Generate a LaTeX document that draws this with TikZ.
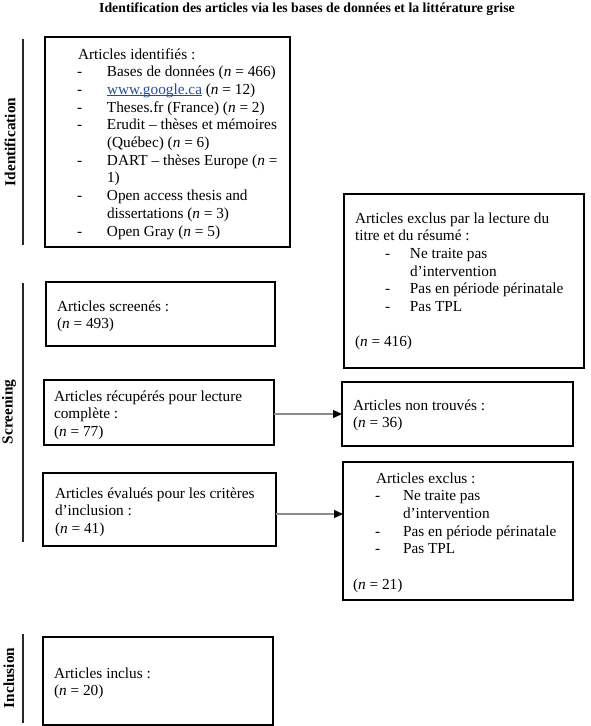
\documentclass[tikz,border=0pt]{standalone}
\usepackage{fontspec}
\setmainfont{Liberation Serif}
\usetikzlibrary{arrows.meta,calc}
\definecolor{linkblue}{RGB}{31,78,160}
\definecolor{arrgray}{RGB}{140,140,140}
\definecolor{secgray}{RGB}{40,40,50}
\newcommand{\nn}{\textit{n}}
\newcommand{\linkul}[1]{{\color{linkblue}\setbox0\hbox{#1}\rlap{\rule[-1.8pt]{\wd0}{0.8pt}}\box0}}
\tikzset{
  box/.style={draw=black, line width=1.8pt, rectangle, inner sep=0pt, outer sep=0pt, anchor=north west},
  txt/.style={inner sep=0pt, outer sep=0pt, anchor=base west, font=\fontsize{15.3}{17.7}\selectfont},
  lab/.style={inner sep=0pt, rotate=90, font=\fontsize{15.3}{17.7}\selectfont\bfseries},
  secline/.style={draw=secgray, line width=1.2pt},
  arr/.style={draw=arrgray, line width=1.3pt, -{Triangle[length=9pt,width=8pt,black]}, shorten >=0pt},
}
\begin{document}
\begin{tikzpicture}[x=1pt,y=-1pt]
\useasboundingbox (0,0) rectangle (590,726);

% title
\node[inner sep=0pt, anchor=base, font=\fontsize{13.8}{16}\selectfont\bfseries] (title) at (307,12)
  {Identification des articles via les bases de données et la littérature grise};

% section lines and labels
\coordinate (l1a) at (23,39);  \coordinate (l1b) at (23,245);
\coordinate (l2a) at (23,283); \coordinate (l2b) at (23,542);
\coordinate (l3a) at (23,634); \coordinate (l3b) at (23,723);
\draw[secline] (l1a) -- (l1b);
\draw[secline] (l2a) -- (l2b);
\draw[secline] (l3a) -- (l3b);
\node[lab] (lid) at (10,142) {Identification};
\node[lab] (lsc) at (9,412) {Screening};
\node[lab] (lin) at (9,678) {Inclusion};

% boxes
\node[box, minimum width=245pt, minimum height=210pt] (id) at (45,37) {};
\node[box, minimum width=240pt, minimum height=174pt] (ex1) at (344,194) {};
\node[box, minimum width=229pt, minimum height=64pt] (scr) at (46,282) {};
\node[box, minimum width=230pt, minimum height=65pt] (rec) at (44,380) {};
\node[box, minimum width=231pt, minimum height=64pt] (nt) at (342,382) {};
\node[box, minimum width=233pt, minimum height=73pt] (eva) at (43,473) {};
\node[box, minimum width=230pt, minimum height=138pt] (exc) at (343,462) {};
\node[box, minimum width=230pt, minimum height=88pt] (inc) at (43,637) {};

% texts
\node[txt] (idt) at (77,59) {\begin{tabular}[t]{@{}l@{}}
\hspace*{1pt}Articles identifiés :\\
\makebox[30pt][l]{-}Bases de données (\nn{} = 466)\\
\makebox[30pt][l]{-}\linkul{www.google.ca} (\nn{} = 12)\\
\makebox[30pt][l]{-}Theses.fr (France) (\nn{} = 2)\\
\makebox[30pt][l]{-}Erudit – thèses et mémoires\\
\hspace*{30pt}(Québec) (\nn{} = 6)\\
\makebox[30pt][l]{-}DART – thèses Europe (\nn{} =\\
\hspace*{30pt}1)\\
\makebox[30pt][l]{-}Open access thesis and\\
\hspace*{30pt}dissertations (\nn{} = 3)\\
\makebox[30pt][l]{-}Open Gray (\nn{} = 5)
\end{tabular}};

\node[txt] (ex1t) at (355,223) {\begin{tabular}[t]{@{}l@{}}
Articles exclus par la lecture du\\
titre et du résumé :\\
\hspace*{30pt}\makebox[25pt][l]{-}Ne traite pas\\
\hspace*{55pt}d’intervention\\
\hspace*{30pt}\makebox[25pt][l]{-}Pas en période périnatale\\
\hspace*{30pt}\makebox[25pt][l]{-}Pas TPL\\
\\
(\nn{} = 416)
\end{tabular}};

\node[txt] (scrt) at (57,311) {\begin{tabular}[t]{@{}l@{}}
Articles screenés :\\
(\nn{} = 493)
\end{tabular}};

\node[txt] (rect) at (54,401) {\begin{tabular}[t]{@{}l@{}}
Articles récupérés pour lecture\\
complète :\\
(\nn{} = 77)
\end{tabular}};

\node[txt] (ntt) at (353,410) {\begin{tabular}[t]{@{}l@{}}
Articles non trouvés :\\
(\nn{} = 36)
\end{tabular}};

\node[txt] (evat) at (55,498) {\begin{tabular}[t]{@{}l@{}}
Articles évalués pour les critères\\
d’inclusion :\\
(\nn{} = 41)
\end{tabular}};

\node[txt] (exct) at (353,483) {\begin{tabular}[t]{@{}l@{}}
\hspace*{23pt}Articles exclus :\\
\hspace*{22pt}\makebox[28pt][l]{-}Ne traite pas\\
\hspace*{50pt}d’intervention\\
\hspace*{22pt}\makebox[28pt][l]{-}Pas en période périnatale\\
\hspace*{22pt}\makebox[28pt][l]{-}Pas TPL\\
\\
(\nn{} = 21)
\end{tabular}};

\node[txt] (inct) at (54,678) {\begin{tabular}[t]{@{}l@{}}
Articles inclus :\\
(\nn{} = 20)
\end{tabular}};

% arrows
\draw[arr] (nt.west -| rec.east) -- (nt.west);
\draw[arr] ([yshift=-4.5pt]eva.east) -- ([yshift=-4.5pt]eva.east -| exc.west);
\end{tikzpicture}
\end{document}
